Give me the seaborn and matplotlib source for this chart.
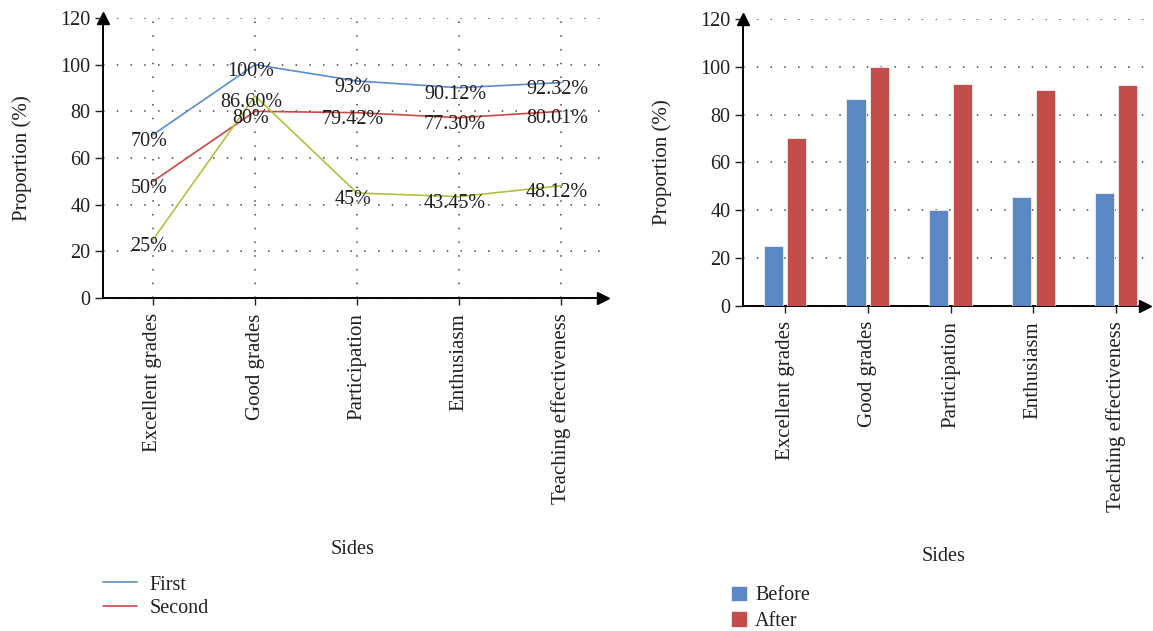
import matplotlib
matplotlib.use("Agg")
import matplotlib.pyplot as plt
import seaborn as sns
import pandas as pd

# Categories shared by both panels
sides = ["Excellent grades", "Good grades", "Participation", "Enthusiasm", "Teaching effectiveness"]

# Line panel: labelled percentages for each round
first_labels = ["70%", "100%", "93%", "90.12%", "92.32%"]
second_labels = ["50%", "80%", "79.42%", "77.30%", "80.01%"]
third_labels = ["25%", "86.60%", "45%", "43.45%", "48.12%"]

# Bar panel values
before_vals = [25, 86.6, 40, 45.6, 47.3]
after_vals = [70, 100, 93, 90.12, 92.32]

yticks = [0, 20, 40, 60, 80, 100, 120]

def pct(labels):
    return [float(s.rstrip("%")) for s in labels]

line_series = {"First": first_labels, "Second": second_labels, "Third": third_labels}
line_colors = {"First": "#5b8bd0", "Second": "#cc4743", "Third": "#adc23e"}

line_df = pd.DataFrame(
    [(name, s, v) for name, labs in line_series.items() for s, v in zip(sides, pct(labs))],
    columns=["series", "side", "value"],
)
bar_df = pd.DataFrame(
    [("Before", s, v) for s, v in zip(sides, before_vals)]
    + [("After", s, v) for s, v in zip(sides, after_vals)],
    columns=["group", "side", "value"],
)

sns.set_theme(style="white")
plt.rcParams["font.family"] = ["Liberation Serif", "DejaVu Serif"]
plt.rcParams["text.color"] = "#231f20"
plt.rcParams["axes.labelcolor"] = "#231f20"
plt.rcParams["xtick.color"] = "#231f20"
plt.rcParams["ytick.color"] = "#231f20"

fig = plt.figure(figsize=(11.53, 6.31), dpi=100)
ax1 = fig.add_axes([103 / 1153, 1 - 298 / 631, 500 / 1153, 280 / 631])
ax2 = fig.add_axes([743 / 1153, 1 - 305.7 / 631, 402 / 1153, 286.7 / 631])

FS = 14.5
FS_LAB = 15
grid_kw = dict(color="#444444", linewidth=1.1, linestyle=(0, (1, 8)), zorder=0)


def style_axes(ax, xgrid):
    for sp in ("top", "right"):
        ax.spines[sp].set_visible(False)
    for sp in ("left", "bottom"):
        ax.spines[sp].set_color("black")
        ax.spines[sp].set_linewidth(1.4)
    ax.set_ylim(0, 120)
    ax.set_yticks(yticks)
    ax.tick_params(axis="y", direction="out", length=6, width=1, labelsize=FS, pad=3, left=True)
    ax.tick_params(axis="x", direction="out", length=5, width=1, labelsize=FS_LAB, pad=6, bottom=True)
    for y in yticks:
        ax.axhline(y, **grid_kw)
    if xgrid:
        for x in range(len(sides)):
            ax.axvline(x, **grid_kw)
    ax.set_xticks(range(len(sides)))
    ax.set_xticklabels(sides, rotation=90)
    ax.set_ylabel("Proportion (%)", fontsize=FS_LAB, labelpad=20)
    ax.set_xlabel("Sides", fontsize=FS)
    # arrow heads on axis ends
    ax.plot(1, 0, marker=">", color="black", markersize=9, transform=ax.transAxes, clip_on=False, zorder=5)
    ax.plot(0, 1, marker="^", color="black", markersize=9, transform=ax.transAxes, clip_on=False, zorder=5)


# ---- left: line chart ----
sns.lineplot(
    data=line_df, x="side", y="value", hue="series", palette=line_colors,
    sort=False, linewidth=1.2, ax=ax1, zorder=3,
)
for name, labs in line_series.items():
    for i, (lab, v) in enumerate(zip(labs, pct(labs))):
        ax1.annotate(lab, (i, v), xytext=(-3, -5), textcoords="offset points",
                     ha="center", va="center", fontsize=FS, zorder=4)
ax1.set_xlim(-0.49, 4.41)
style_axes(ax1, xgrid=True)
ax1.xaxis.labelpad = 26
h, l = ax1.get_legend_handles_labels()
ax1.legend(h[:2], l[:2], loc="upper left", bbox_to_anchor=(-0.016, -0.962), frameon=False,
           fontsize=FS, handlelength=1.7, handletextpad=0.6, labelspacing=0.2, borderaxespad=0)

# ---- right: grouped bars ----
sns.barplot(
    data=bar_df, x="side", y="value", hue="group",
    palette={"Before": "#5b88c4", "After": "#c34d4a"}, saturation=1,
    width=0.57, gap=0.19, edgecolor="#f0f0f0", linewidth=0.6, ax=ax2, zorder=3,
)
ax2.set_xlim(-0.508, 4.35)
style_axes(ax2, xgrid=False)
ax2.xaxis.labelpad = 25
ax2.legend(loc="upper left", bbox_to_anchor=(-0.05, -0.948), frameon=False, fontsize=FS,
           handlelength=0.8, handleheight=0.8, handletextpad=0.4, labelspacing=0.3, borderaxespad=0)

fig.savefig("out.png", dpi=100)
